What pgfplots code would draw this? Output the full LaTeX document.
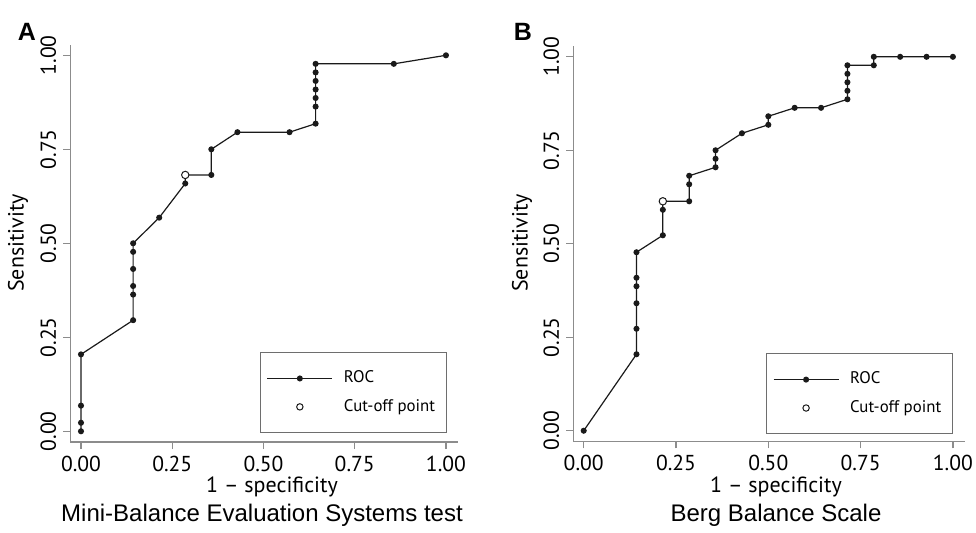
\documentclass[border=0pt]{standalone}
\usepackage{fontspec}
\setmainfont{PT Sans}
\newfontfamily\arial{Liberation Sans}
\usepackage{pgfplots}
\pgfplotsset{compat=1.18}
\definecolor{cSpine}{HTML}{8C8C8C}
\definecolor{cBox}{HTML}{6E6E6E}
\definecolor{cInk}{HTML}{1A1A1A}

\pgfplotsset{
  rocax/.style={
    scale only axis, clip=false,
    axis x line*=bottom, axis y line*=left,
    axis line style={draw=cSpine, line width=0.6pt},
    tick style={draw=cSpine, line width=0.6pt},
    tick align=outside, major tick length=3.5pt,
    xtick={0,0.25,0.5,0.75,1}, ytick={0,0.25,0.5,0.75,1},
    xticklabels={0.00,0.25,0.50,0.75,1.00},
    yticklabels={0.00,0.25,0.50,0.75,1.00},
    tick label style={font=\fontsize{10.8}{12}\selectfont, color=black},
    yticklabel style={rotate=90, anchor=south},
    legend cell align=left,
    legend style={draw=cBox, line width=0.5pt, fill=white,
      inner xsep=3.3pt, inner ysep=9pt, row sep=6.4pt,
      font=\fontsize{8.4}{10}\selectfont,
      nodes={inner sep=0pt, text height=6pt, text depth=1.8pt},
      /tikz/every odd column/.append style={column sep=5.5pt}},
  },
  rocline/.style={draw=cInk, line width=0.6pt, mark=*, mark size=1.2pt,
    mark options={fill=cInk, draw=cInk},
    legend image code/.code={%
      \path[draw=none, fill=none] (0pt,-3.9pt) rectangle (32.5pt,3.9pt);
      \draw[cInk, line width=0.6pt] (0pt,0pt) -- (32.5pt,0pt);
      \fill[cInk] (16.25pt,0pt) circle (1.2pt);}},
  cutmark/.style={only marks, mark=*, mark size=1.85pt,
    mark options={fill=white, draw=cInk, line width=0.5pt},
    legend image code/.code={%
      \path[draw=none, fill=none] (0pt,-3.9pt) rectangle (32.5pt,3.9pt);
      \draw[cInk, fill=white, line width=0.5pt] (16.25pt,0pt) circle (1.6pt);}},
}

\begin{document}
\begin{tikzpicture}
\useasboundingbox (0,0) rectangle (488pt,266pt);

% panel A
\begin{axis}[rocax, at={(35.15pt,45pt)}, anchor=south west,
  width=193.85pt, height=198.5pt,
  xmin=-0.0293, xmax=1.033, ymin=-0.0285, ymax=1.0274,
  legend style={at={(axis cs:1.003,-0.005)}, anchor=south east}]
  \addplot[rocline] coordinates {
    (0,0) (0,0.0227) (0,0.0682) (0,0.2045)
    (0.1429,0.2955) (0.1429,0.3636) (0.1429,0.3864) (0.1429,0.4318)
    (0.1429,0.4773) (0.1429,0.5) (0.2143,0.5682) (0.2857,0.6591)
    (0.2857,0.6818) (0.3571,0.6818) (0.3571,0.75) (0.4286,0.7955)
    (0.5714,0.7955) (0.6429,0.8182) (0.6429,0.8636) (0.6429,0.8864)
    (0.6429,0.9091) (0.6429,0.9318) (0.6429,0.9545) (0.6429,0.9773)
    (0.8571,0.9773) (1,1)};
  \addlegendentry{\makebox[48pt][l]{ROC}}
  \addplot[cutmark] coordinates {(0.2857,0.6818)};
  \addlegendentry{\makebox[48pt][l]{Cut-off point}}
\end{axis}

% panel B
\begin{axis}[rocax, at={(286.65pt,45.35pt)}, anchor=south west,
  width=195.9pt, height=197.6pt,
  xmin=-0.0282, xmax=1.033, ymin=-0.0283, ymax=1.0286,
  legend style={at={(axis cs:1.001,-0.0096)}, anchor=south east}]
  \addplot[rocline] coordinates {
    (0,0) (0.1429,0.2045) (0.1429,0.2727) (0.1429,0.3409) (0.1429,0.3864)
    (0.1429,0.4091) (0.1429,0.4773) (0.2143,0.5227) (0.2143,0.5909)
    (0.2143,0.6136) (0.2857,0.6136) (0.2857,0.6591) (0.2857,0.6818)
    (0.3571,0.7045) (0.3571,0.7273) (0.3571,0.75) (0.4286,0.7955)
    (0.5,0.8182) (0.5,0.8409) (0.5714,0.8636) (0.6429,0.8636)
    (0.7143,0.8864) (0.7143,0.9091) (0.7143,0.9318) (0.7143,0.9545)
    (0.7143,0.9773) (0.7857,0.9773) (0.7857,1) (0.8571,1) (0.9286,1) (1,1)};
  \addlegendentry{\makebox[48pt][l]{ROC}}
  \addplot[cutmark] coordinates {(0.2143,0.6136)};
  \addlegendentry{\makebox[48pt][l]{Cut-off point}}
\end{axis}

% axis titles, captions and panel letters
\begin{scope}[font=\fontsize{11}{13}\selectfont]
  \node[rotate=90] at (9pt,144.5pt) {Sensitivity};
  \node[rotate=90] at (261pt,144.5pt) {Sensitivity};
  \node at (136pt,22.5pt) {1 -- specificity};
  \node at (388pt,22.5pt) {1 -- specificity};
\end{scope}
\node[font=\arial\fontsize{12}{14}\selectfont] at (131pt,8.5pt) {Mini-Balance Evaluation Systems test};
\node[font=\arial\fontsize{12}{14}\selectfont] at (388pt,8.5pt) {Berg Balance Scale};
\node[font=\arial\bfseries\fontsize{12.5}{14}\selectfont] at (13.5pt,250pt) {A};
\node[font=\arial\bfseries\fontsize{12.5}{14}\selectfont] at (261.5pt,250pt) {B};
\end{tikzpicture}
\end{document}
